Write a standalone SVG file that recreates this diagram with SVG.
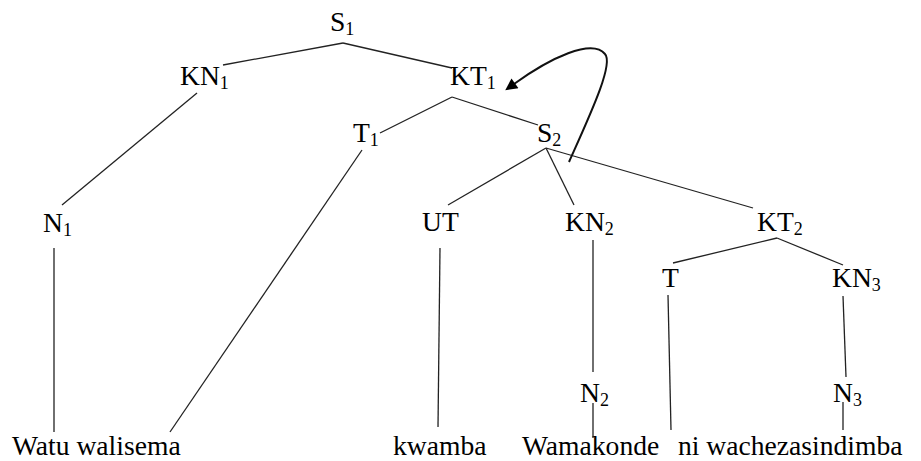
<svg xmlns="http://www.w3.org/2000/svg" width="921" height="461" viewBox="0 0 921 461">
  <style>
    text { font-family: "Liberation Serif", "Tinos", "DejaVu Serif", serif; font-size: 27.6px; fill: #000; }
    .sub { font-size: 18px; }
    .edge { stroke: #222; stroke-width: 1.3; fill: none; }
    .move { stroke: #111; stroke-width: 2; fill: none; }
  </style>
  <defs>
    <marker id="head" viewBox="0 0 10 10" refX="1" refY="5" markerWidth="15" markerHeight="12" markerUnits="userSpaceOnUse" orient="auto">
      <path d="M0,0 L10,5 L0,10 z" fill="#000"/>
    </marker>
  </defs>

  <rect width="921" height="461" fill="#fff"/>

  <!-- tree branches -->
  <g id="connectors">
    <line class="edge" x1="343" y1="43" x2="223" y2="65"/>
    <line class="edge" x1="343" y1="43" x2="452" y2="68"/>
    <line class="edge" x1="197" y1="93" x2="62" y2="205"/>
    <line class="edge" x1="452" y1="97" x2="380" y2="133"/>
    <line class="edge" x1="452" y1="97" x2="538" y2="125"/>
    <line class="edge" x1="362" y1="150" x2="170" y2="432"/>
    <line class="edge" x1="54" y1="248" x2="54" y2="432"/>
    <line class="edge" x1="546" y1="148" x2="448" y2="205"/>
    <line class="edge" x1="546" y1="148" x2="574" y2="205"/>
    <line class="edge" x1="546" y1="148" x2="753" y2="208"/>
    <line class="edge" x1="440" y1="248" x2="438" y2="427"/>
    <line class="edge" x1="593" y1="240" x2="593" y2="372"/>
    <line class="edge" x1="593" y1="403" x2="593" y2="438"/>
    <line class="edge" x1="777" y1="238" x2="673" y2="263"/>
    <line class="edge" x1="777" y1="238" x2="843" y2="265"/>
    <line class="edge" x1="668" y1="295" x2="671" y2="430"/>
    <line class="edge" x1="843" y1="296" x2="846" y2="377"/>
    <line class="edge" x1="843" y1="402" x2="843" y2="430"/>
    <!-- movement arrow from S2 back up to KT1 -->
    <path class="move" d="M569,162 C590,115 614,64 605,54 C592,38 550,58 514,84" marker-end="url(#head)"/>
  </g>

  <g font-family="Liberation Serif, Tinos, DejaVu Serif, serif">
    <g id="S1"><text x="330" y="31">S<tspan class="sub" dy="4">1</tspan></text></g>
    <g id="KN1"><text x="180" y="85">KN<tspan class="sub" dy="4">1</tspan></text></g>
    <g id="KT1"><text x="450" y="85">KT<tspan class="sub" dy="4">1</tspan></text></g>
    <g id="T1"><text x="353" y="142">T<tspan class="sub" dy="4">1</tspan></text></g>
    <g id="S2"><text x="537" y="142">S<tspan class="sub" dy="4">2</tspan></text></g>
    <g id="N1"><text x="43" y="232">N<tspan class="sub" dy="4">1</tspan></text></g>
    <g id="UT"><text x="422" y="231">UT</text></g>
    <g id="KN2"><text x="565" y="231">KN<tspan class="sub" dy="4">2</tspan></text></g>
    <g id="KT2"><text x="757" y="231">KT<tspan class="sub" dy="4">2</tspan></text></g>
    <g id="T"><text x="662" y="287">T</text></g>
    <g id="KN3"><text x="832" y="287">KN<tspan class="sub" dy="4">3</tspan></text></g>
    <g id="N2"><text x="580" y="402">N<tspan class="sub" dy="4">2</tspan></text></g>
    <g id="N3"><text x="833" y="402">N<tspan class="sub" dy="4">3</tspan></text></g>

    <g id="words">
      <text x="12" y="455">Watu walisema</text>
      <text x="393" y="455">kwamba</text>
      <text x="522" y="455">Wamakonde</text>
      <text x="678" y="455">ni wachezasindimba</text>
    </g>
  </g>
</svg>
